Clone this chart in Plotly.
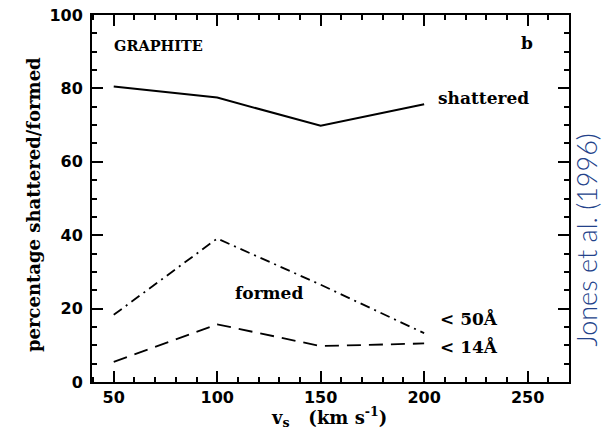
import plotly.graph_objects as go

vs = [50, 100, 150, 200]
shattered = [80.5, 77.5, 69.8, 75.7]
formed_50 = [18.3, 39.1, 26.5, 13.3]
formed_14 = [5.5, 15.7, 9.8, 10.5]

x_ticks = [50, 100, 150, 200, 250]
y_ticks = [0, 20, 40, 60, 80, 100]

serif = "DejaVu Serif"
sans = "DejaVu Sans"

L, R, T, B = 92, 46, 15, 48
W, H = 615, 430
pw = W - L - R
ph = H - T - B


def px(xp):
    return (xp - L) / pw


def py(yp):
    return (H - B - yp) / ph


fig = go.Figure()
fig.add_trace(go.Scatter(x=vs, y=shattered, mode="lines",
                         line=dict(color="black", width=2)))
fig.add_trace(go.Scatter(x=vs, y=formed_50, mode="lines",
                         line=dict(color="black", width=1.8, dash="10px,5px,2px,5px")))
fig.add_trace(go.Scatter(x=vs, y=formed_14, mode="lines",
                         line=dict(color="black", width=1.8, dash="14px,8px")))

annots = [
    dict(x=71.4, y=91.8, text="GRAPHITE", xanchor="center", size=14.5),
    dict(x=249.7, y=92.4, text="b", xanchor="center", size=17),
    dict(x=228.5, y=77.4, text="shattered", xanchor="center", size=17),
    dict(x=125, y=24.3, text="formed", xanchor="center", size=17),
    dict(x=206.5, y=17.2, text="&lt; 50Å", xanchor="left", size=17),
    dict(x=206.5, y=9.8, text="&lt; 14Å", xanchor="left", size=17),
]
for a in annots:
    fig.add_annotation(x=a["x"], y=a["y"], text=a["text"], xref="x", yref="y",
                       xanchor=a["xanchor"], yanchor="middle", showarrow=False,
                       font=dict(family=serif, size=a["size"], color="black", weight="bold"))

# axis titles
fig.add_annotation(x=px(33), y=py(205), xref="paper", yref="paper",
                   text="percentage shattered/formed", showarrow=False, textangle=-90,
                   xanchor="center", yanchor="middle",
                   font=dict(family=serif, size=18, color="black", weight="bold"))
fig.add_annotation(x=px(329), y=py(417), xref="paper", yref="paper",
                   text="v<sub>s</sub>   (km s<sup>-1</sup>)", showarrow=False,
                   xanchor="center", yanchor="middle",
                   font=dict(family=serif, size=18, color="black", weight="bold"))

fig.add_annotation(x=px(604), y=py(240), xref="paper", yref="paper",
                   text="Jones et al. (1996)", showarrow=False, textangle=-90,
                   font=dict(family="Lato", size=27, color="#23428A", weight=300))

axis_common = dict(showline=True, linewidth=2, linecolor="black", mirror="ticks",
                   ticks="inside", tickwidth=2, tickcolor="black", ticklen=11,
                   showgrid=False, zeroline=False, automargin=False,
                   tickfont=dict(family=sans, size=16, color="black", weight="bold"))

fig.update_xaxes(range=[39.5, 270], tickvals=x_ticks,
                 minor=dict(dtick=10, tick0=0, ticks="inside", ticklen=5, tickwidth=1.5,
                            tickcolor="black"),
                 **axis_common)
fig.update_yaxes(range=[0, 100], tickvals=y_ticks, ticklabelstandoff=4,
                 minor=dict(dtick=5, tick0=0, ticks="inside", ticklen=5, tickwidth=1.5,
                            tickcolor="black"),
                 **axis_common)

fig.update_layout(width=W, height=H, margin=dict(l=L, r=R, t=T, b=B),
                  paper_bgcolor="white", plot_bgcolor="white", showlegend=False)

fig.write_html("out.html")
